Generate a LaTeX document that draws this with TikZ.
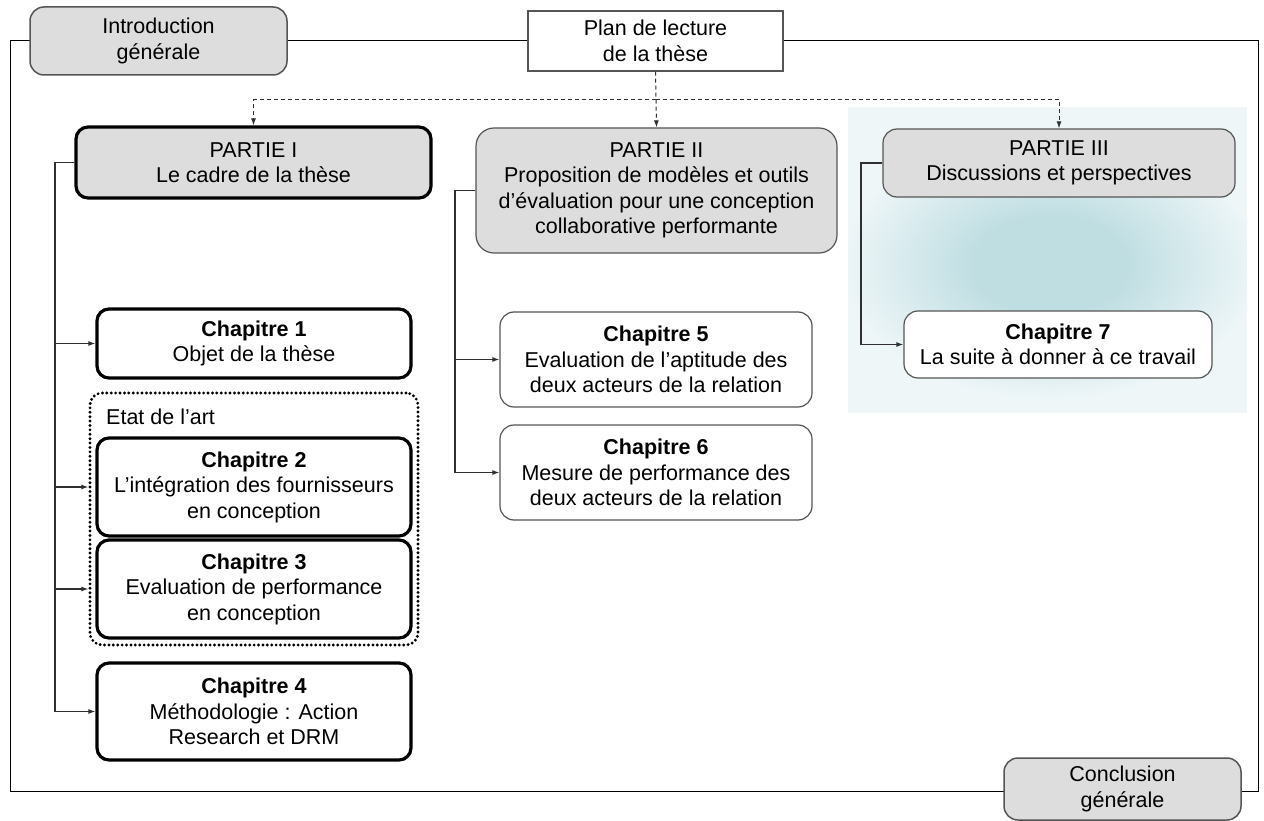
\documentclass[tikz,border=0pt]{standalone}
\usepackage{fontspec}
\setmainfont{Liberation Sans}
\usetikzlibrary{arrows.meta}
\definecolor{boxgray}{HTML}{DDDDDD}
\definecolor{linegray}{HTML}{555555}
\definecolor{conngray}{HTML}{303030}
\definecolor{bgblue}{HTML}{EEF6F8}
\definecolor{midblue}{HTML}{BFDEE2}
\pgfdeclareradialshading{blob}{\pgfpoint{0bp}{0bp}}{color(0bp)=(midblue); color(9bp)=(midblue); color(25bp)=(bgblue); color(50bp)=(bgblue)}
\begin{document}
\begin{tikzpicture}[x=1pt,y=-1pt,
  txt/.style={font=\fontsize{21.5}{25.5}\selectfont, align=center, inner sep=0pt},
  endbox/.style={txt, draw=linegray, line width=1.5pt, fill=boxgray, rounded corners=14pt},
  planbox/.style={txt, draw=linegray, line width=1.2pt, fill=white},
  partthick/.style={txt, draw=black, line width=3.2pt, fill=boxgray, rounded corners=12pt},
  partthin/.style={txt, draw=linegray, line width=1.2pt, fill=boxgray, rounded corners=18pt},
  chapthick/.style={txt, draw=black, line width=3.2pt, fill=white, rounded corners=12pt, minimum width=314pt},
  chapthin/.style={txt, draw=linegray, line width=1.2pt, fill=white, rounded corners=14pt},
  dotbox/.style={draw=black, line width=3.2pt, dash pattern=on 0pt off 4.4pt, line cap=round, rounded corners=12pt, inner sep=0pt},
  conn/.style={draw=conngray, line width=1.2pt, -{Latex[length=7pt,width=5pt]}},
  plain/.style={draw=conngray, line width=1.2pt},
  dashconn/.style={draw=conngray, line width=1pt, dash pattern=on 4pt off 3pt, -{Latex[length=7pt,width=5pt]}}
]
\useasboundingbox (0,0) rectangle (1264,821);
\fill[white] (0,0) rectangle (1264,821);

% light blue background of part III
\fill[bgblue] (848,107) rectangle (1247,413);
\begin{scope}
  \clip (848,107) rectangle (1247,413);
  \shade[shading=blob] (1050,265) ellipse [x radius=210, y radius=135];
\end{scope}

% outer frame
\draw[black, line width=1pt] (10,41) rectangle (1258,791);

% top and bottom boxes
\node[endbox, minimum width=257pt, minimum height=68pt] (intro) at (158.5,41) {Introduction\\générale};
\node[planbox, minimum width=255pt, minimum height=60pt] (plan) at (655.5,41) {Plan de lecture\\de la thèse};
\node[endbox, minimum width=237pt, minimum height=62pt] (concl) at (1122.5,789) {Conclusion\\générale};

% parts
\node[partthick, minimum width=355pt, minimum height=71pt] (p1) at (253.5,162.5) {PARTIE I\\Le cadre de la thèse};
\node[partthin, minimum width=361pt, minimum height=125pt] (p2) at (656.5,190.5) {PARTIE II\\Proposition de modèles et outils\\d’évaluation pour une conception\\collaborative performante};
\node[partthin, rounded corners=14pt, minimum width=352pt, minimum height=68pt] (p3) at (1059,163) {PARTIE III\\Discussions et perspectives};

% state of the art group
\node[dotbox, minimum width=328pt, minimum height=252pt] (etat) at (254,519) {};
\node[txt, anchor=west] (etatlbl) at (106,417) {Etat de l’art};

% chapters part I
\node[chapthick, minimum height=69pt] (c1) at (254,343.5) {\textbf{Chapitre 1}\\Objet de la thèse};
\node[chapthick, minimum height=98pt] (c2) at (254,487) {\textbf{Chapitre 2}\\L’intégration des fournisseurs\\en conception};
\node[chapthick, minimum height=98pt] (c3) at (254,589) {\textbf{Chapitre 3}\\Evaluation de performance\\en conception};
\node[chapthick, minimum height=97pt] (c4) at (254,711.5) {\textbf{Chapitre 4}\\Méthodologie : Action\\Research et DRM};

% chapters part II
\node[chapthin, minimum width=312pt, minimum height=95pt] (c5) at (656,359.5) {\textbf{Chapitre 5}\\Evaluation de l’aptitude des\\deux acteurs de la relation};
\node[chapthin, minimum width=312pt, minimum height=95pt] (c6) at (656,472.5) {\textbf{Chapitre 6}\\Mesure de performance des\\deux acteurs de la relation};

% chapter part III
\node[chapthin, minimum width=308pt, minimum height=67pt] (c7) at (1058,344.5) {\textbf{Chapitre 7}\\La suite à donner à ce travail};

% dashed distribution from plan
\coordinate (jn) at (655.5,100);
\draw[dashconn] (plan.south) -- (p2.north);
\draw[dashconn] (jn) -| (p1.north);
\draw[dashconn] (jn) -| (p3.north);

% part I connectors
\coordinate (lx1) at (55,0);
\draw[plain] (p1.west) -- (p1.west -| lx1) -- (c4.west -| lx1);
\draw[conn] (c1.west -| lx1) -- (c1.west);
\draw[conn] (c2.west -| lx1) -- (c2.west -| etat.west);
\draw[conn] (c3.west -| lx1) -- (c3.west -| etat.west);
\draw[conn] (c4.west -| lx1) -- (c4.west);

% part II connectors
\coordinate (lx2) at (455,0);
\draw[plain] (p2.west) -- (p2.west -| lx2) -- (c6.west -| lx2);
\draw[conn] (c5.west -| lx2) -- (c5.west);
\draw[conn] (c6.west -| lx2) -- (c6.west);

% part III connector
\coordinate (lx3) at (861,0);
\draw[conn] (p3.west) -- (p3.west -| lx3) |- (c7.west);
\end{tikzpicture}
\end{document}
